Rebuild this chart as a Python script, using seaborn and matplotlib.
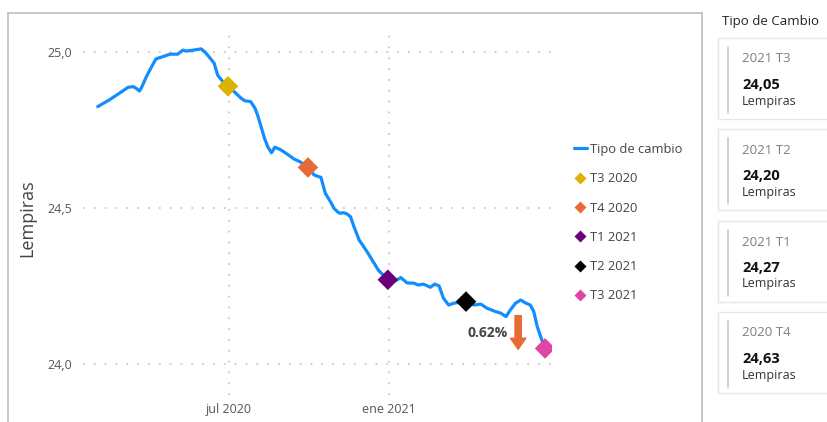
import matplotlib
matplotlib.use("Agg")
import matplotlib.pyplot as plt
from matplotlib.lines import Line2D
from matplotlib.patches import Rectangle
import seaborn as sns
import pandas as pd

# ---------------- data ----------------
dates = ["2020-02-01","2020-02-14","2020-02-26","2020-03-07","2020-03-13","2020-03-16","2020-03-20",
         "2020-03-22","2020-03-28","2020-04-03","2020-04-08","2020-04-16","2020-04-24","2020-05-03",
         "2020-05-09","2020-05-13","2020-05-21","2020-05-30","2020-06-03","2020-06-08","2020-06-14",
         "2020-06-18","2020-06-24","2020-06-30","2020-07-07","2020-07-15","2020-07-19","2020-07-26",
         "2020-07-31","2020-08-03","2020-08-07","2020-08-11","2020-08-15","2020-08-19","2020-08-23",
         "2020-08-30","2020-09-06","2020-09-14","2020-09-21","2020-09-30","2020-10-07","2020-10-15",
         "2020-10-20","2020-10-26","2020-10-30","2020-11-03","2020-11-06","2020-11-10","2020-11-14",
         "2020-11-18","2020-11-22","2020-11-28","2020-12-02","2020-12-07","2020-12-13","2020-12-20",
         "2020-12-31","2021-01-07","2021-01-15","2021-01-22","2021-01-30","2021-02-04","2021-02-10",
         "2021-02-18","2021-02-23","2021-02-28","2021-03-05","2021-03-11","2021-03-17","2021-03-31",
         "2021-04-09","2021-04-17","2021-04-24","2021-05-04","2021-05-10","2021-05-16","2021-05-21",
         "2021-05-27","2021-06-02","2021-06-08","2021-06-13","2021-06-17","2021-06-21","2021-06-23",
         "2021-06-27","2021-06-30"]
values = [24.825,24.846,24.868,24.887,24.889,24.884,24.875,
          24.884,24.921,24.953,24.978,24.985,24.993,24.993,
          25.006,25.003,25.006,25.010,25.001,24.985,24.964,
          24.926,24.905,24.890,24.873,24.852,24.844,24.841,
          24.820,24.798,24.761,24.723,24.695,24.677,24.695,
          24.686,24.673,24.657,24.648,24.630,24.606,24.598,
          24.547,24.520,24.499,24.488,24.483,24.485,24.481,
          24.472,24.440,24.397,24.381,24.360,24.333,24.301,
          24.270,24.264,24.277,24.260,24.259,24.253,24.256,
          24.246,24.256,24.250,24.211,24.189,24.195,24.200,
          24.189,24.192,24.179,24.168,24.163,24.152,24.173,
          24.195,24.205,24.195,24.189,24.168,24.120,24.104,
          24.071,24.050]

q_labels = ["T3 2020", "T4 2020", "T1 2021", "T2 2021", "T3 2021"]
q_dates = ["2020-06-30", "2020-09-30", "2020-12-31", "2021-03-31", "2021-06-30"]
q_values = [24.89, 24.63, 24.27, 24.20, 24.05]
q_colors = ["#D9B300", "#E66C37", "#6B007B", "#000000", "#E044A7"]

xtick_dates = ["2020-07-01", "2021-01-01"]
xtick_labels = ["jul 2020", "ene 2021"]
ytick_values = [24.0, 24.5, 25.0]
ytick_labels = ["24,0", "24,5", "25,0"]

card_titles = ["2021 T3", "2021 T2", "2021 T1", "2020 T4"]
card_values = ["24,05", "24,20", "24,27", "24,63"]
card_unit = "Lempiras"
panel_title = "Tipo de Cambio"
change_label = "0.62%"

# ---------------- figure ----------------
sns.set_theme(style="white")
plt.rcParams["font.family"] = ["Open Sans", "DejaVu Sans"]

W, H = 827, 422
fig = plt.figure(figsize=(W / 100, H / 100), dpi=100)
fig.patch.set_facecolor("white")

def fx(x):
    return x / W

def fy(y):
    return 1 - y / H

ax = fig.add_axes([fx(83), fy(395), fx(552) - fx(83), fy(35) - fy(395)])

df = pd.DataFrame({"fecha": pd.to_datetime(dates), "valor": values})
qdf = pd.DataFrame({"fecha": pd.to_datetime(q_dates), "valor": q_values, "trimestre": q_labels})

sns.lineplot(data=df, x="fecha", y="valor", ax=ax, color="#118DFF", linewidth=2.3,
             label="Tipo de cambio", zorder=3)
sns.scatterplot(data=qdf, x="fecha", y="valor", hue="trimestre", hue_order=q_labels,
                palette=q_colors, marker="D", s=110, edgecolor="none", ax=ax, zorder=4)

ax.set_xlim(pd.Timestamp("2020-01-15"), pd.Timestamp("2021-07-08"))
ax.set_ylim(23.9006, 25.0545)

ax.set_xticks(pd.to_datetime(xtick_dates))
ax.set_xticklabels(xtick_labels)
ax.set_yticks(ytick_values)
ax.set_yticklabels(ytick_labels)
ax.tick_params(axis="both", length=0, labelsize=9, labelcolor="#555555")
ax.tick_params(axis="y", pad=8)
ax.tick_params(axis="x", pad=6)

ax.grid(True, color="#C8C8C8", linestyle=(0, (1, 5)), linewidth=1.3)
for s in ax.spines.values():
    s.set_visible(False)
ax.set_xlabel("")
ax.set_ylabel("Lempiras", fontsize=13, color="#444444")
ax.yaxis.set_label_coords(-0.1, 0.49)

# legend
handles, labels = ax.get_legend_handles_labels()
leg = ax.legend(handles, labels, loc="upper left", bbox_to_anchor=(fx(574), fy(143)),
                bbox_transform=fig.transFigure, frameon=False, fontsize=9.3,
                handlelength=1.0, handletextpad=0.2, labelspacing=1.26,
                borderpad=0, borderaxespad=0, markerscale=0.62)
for t in leg.get_texts():
    t.set_color("#444444")

# annotation: percent change and arrow
ax.text(pd.Timestamp("2021-04-25"), 24.099, change_label, fontsize=10, fontweight="bold",
        color="#444444", ha="center", va="center")
ax.annotate("", xy=(pd.Timestamp("2021-05-30"), 24.047), xytext=(pd.Timestamp("2021-05-30"), 24.155),
            arrowprops=dict(arrowstyle="simple,head_length=0.8,head_width=1.1,tail_width=0.45",
                            color="#E66C37", mutation_scale=10, shrinkA=0, shrinkB=0))

# main panel border (left, top, right)
bc = "#C6C6C6"
fig.add_artist(Line2D([fx(8), fx(8)], [fy(13), 0], color=bc, linewidth=1.4, transform=fig.transFigure))
fig.add_artist(Line2D([fx(8), fx(702)], [fy(13), fy(13)], color=bc, linewidth=1.4, transform=fig.transFigure))
fig.add_artist(Line2D([fx(702), fx(702)], [fy(13), 0], color=bc, linewidth=1.4, transform=fig.transFigure))

# right panel: cards
fig.text(fx(722), fy(21), panel_title, fontsize=9.5, color="#252423", ha="left", va="center")
card_tops = [38, 129, 221, 312]
card_h = 81
for top, title, val in zip(card_tops, card_titles, card_values):
    fig.add_artist(Rectangle((fx(718), fy(top + card_h)), fx(840) - fx(718), fy(top) - fy(top + card_h),
                             transform=fig.transFigure, facecolor="white", edgecolor="#E6E6E6",
                             linewidth=1.0))
    fig.add_artist(Line2D([fx(728), fx(728)], [fy(top + 9), fy(top + 75)], color="#C8C8C8",
                          linewidth=1.2, transform=fig.transFigure))
    fig.text(fx(742), fy(top + 21), title, fontsize=9.5, color="#7F7F7F", ha="left", va="center")
    fig.text(fx(742), fy(top + 47), val, fontsize=10.5, fontweight="bold", color="#111111",
             ha="left", va="center")
    fig.text(fx(742), fy(top + 63), card_unit, fontsize=9, color="#333333", ha="left", va="center")

fig.savefig("out.png", dpi=100, facecolor="white")
